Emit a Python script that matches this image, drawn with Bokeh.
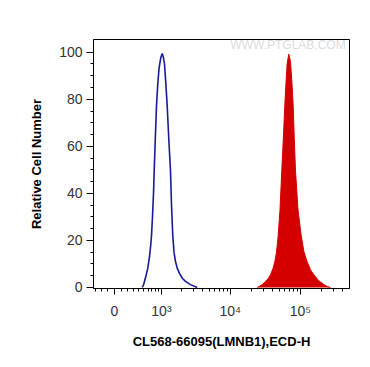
import numpy as np
from bokeh.plotting import figure
from bokeh.models import Range1d, FixedTicker, Label
from bokeh.embed import file_html
from bokeh.resources import INLINE

# ---- data (fluorescence intensity, relative cell number) ----
blue_x = [467, 495, 518, 552, 595, 637, 669, 690, 717, 746, 766, 798, 835, 873, 916, 974, 1028,
          1069, 1115, 1168, 1226, 1297, 1375, 1424, 1488, 1551, 1632, 1729, 1869, 2067, 2286, 2700, 3371]
blue_y = [0, 1, 2.6, 5, 8.2, 13, 18, 22, 30, 40, 49.7, 63, 77.3, 86, 93, 97.5, 99.5,
          98, 95, 87, 77.3, 63, 49.7, 35, 22, 15, 11, 8.2, 6, 3.8, 2.6, 1.2, 0]

red_x = [24210, 26110, 28530, 31790, 35080, 37450, 40660, 43130, 45590, 48210, 51140, 54250,
         56990, 59850, 62260, 64550, 68250, 72140, 75280, 78810, 81720, 84990, 92260, 102460,
         112350, 124760, 138950, 154850, 180680, 214930, 242690, 267750]
red_y = [0, 0.5, 1.2, 2.5, 4, 5.4, 8, 10.9, 15, 22, 33, 49.7,
         63, 77.3, 87, 95, 99.2, 96, 88, 77.3, 63, 49.7, 33, 22,
         15, 10.9, 7.5, 5.4, 3, 1.2, 0.4, 0]

major_vals = [0, 1000, 10000, 100000]
major_labels = ["0", "10³", "10⁴", "10⁵"]
minor_vals = [-300, -200, -100, 100, 200, 300, 400, 500, 600, 700, 800, 900] + \
             [k * 1000 for k in range(2, 10)] + [k * 10000 for k in range(2, 10)] + \
             [k * 100000 for k in range(2, 10)]

COF = 450.0


def T(v):
    return np.arcsinh(np.asarray(v, dtype=float) / COF)


p = figure(width=354, height=351, output_backend="svg", toolbar_location=None,
           x_range=Range1d(-0.6885, 7.705), y_range=Range1d(-0.45, 105.4),
           min_border_left=93, min_border_right=5, min_border_top=39, min_border_bottom=57)

p.background_fill_color = "white"
p.border_fill_color = "white"
p.outline_line_color = "black"
p.outline_line_width = 1
p.grid.visible = False

# red filled histogram
rx = T(red_x)
p.varea(x=rx, y1=np.zeros(len(rx)), y2=red_y, fill_color="#d40000")
p.line(rx, red_y, line_color="#d40000", line_width=1)

# blue histogram
bx = T(blue_x)
p.line(bx, blue_y, line_color="#1a1a96", line_width=1.6)

wm = Label(x=float(T(4.4e5)), y=100.2, text="WWW.PTGLAB.COM", text_align="right",
           text_color="#dcdcdc", text_font_size="12px", text_font="Liberation Sans")
p.add_layout(wm)

# x axis
xt = [float(v) for v in T(major_vals)]
p.xaxis.ticker = FixedTicker(ticks=xt, minor_ticks=[float(v) for v in T(minor_vals)])
p.xaxis.major_label_overrides = {t: l for t, l in zip(xt, major_labels)}
p.xaxis.major_tick_out = 6
p.xaxis.major_tick_in = 0
p.xaxis.minor_tick_out = 3
p.xaxis.minor_tick_in = 0
p.xaxis.major_label_text_font = "Liberation Sans"
p.xaxis.major_label_text_font_size = "14px"
p.xaxis.major_label_text_color = "#333333"
p.xaxis.major_label_standoff = 8
p.xaxis.axis_label = "CL568-66095(LMNB1),ECD-H"
p.xaxis.axis_label_text_font = "Liberation Sans"
p.xaxis.axis_label_text_font_style = "bold"
p.xaxis.axis_label_text_font_size = "13px"
p.xaxis.axis_label_text_color = "black"
p.xaxis.axis_label_standoff = 12

# y axis
p.yaxis.ticker = FixedTicker(ticks=[0, 20, 40, 60, 80, 100],
                             minor_ticks=[v for v in range(0, 105, 5) if v % 20])
p.yaxis.major_tick_out = 7
p.yaxis.major_tick_in = 0
p.yaxis.minor_tick_out = 3
p.yaxis.minor_tick_in = 0
p.yaxis.major_label_text_font = "Liberation Sans"
p.yaxis.major_label_text_font_size = "14px"
p.yaxis.major_label_text_color = "#333333"
p.yaxis.major_label_standoff = 4
p.yaxis.axis_label = "Relative Cell Number"
p.yaxis.axis_label_text_font = "Liberation Sans"
p.yaxis.axis_label_text_font_style = "bold"
p.yaxis.axis_label_text_font_size = "13px"
p.yaxis.axis_label_text_color = "black"
p.yaxis.axis_label_standoff = 12

for ax in (p.xaxis, p.yaxis):
    ax.axis_line_color = "black"
    ax.major_tick_line_color = "black"
    ax.minor_tick_line_color = "black"

open("out.html", "w").write(file_html(p, INLINE))
